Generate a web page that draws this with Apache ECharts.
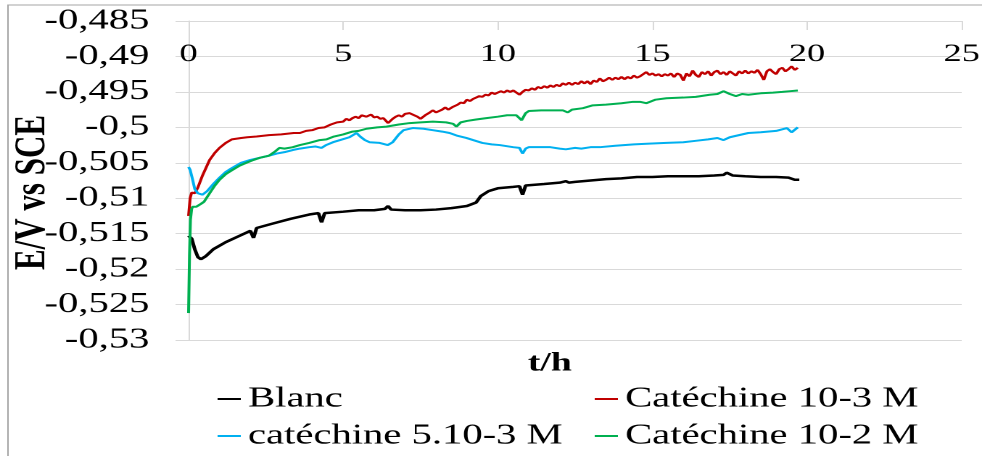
<!DOCTYPE html>
<html>
<head>
<meta charset="utf-8">
<script src="https://cdn.jsdelivr.net/npm/echarts@6/dist/echarts.min.js"></script>
<style>
html,body{margin:0;padding:0;background:#fff;overflow:hidden;width:982px;height:456px;}
#c{width:677px;height:456px;transform:scaleX(1.4505);transform-origin:0 0;}
</style>
</head>
<body>
<div id="c"></div>
<script>
// x ticks (t/h) and y ticks (E/V vs SCE)
const xTicks = [0, 5, 10, 15, 20, 25];
const yTicks = [-0.53, -0.525, -0.52, -0.515, -0.51, -0.505, -0.5, -0.495, -0.49, -0.485];
const seriesNames = ['Blanc', 'Catéchine 10-3 M', 'catéchine 5.10-3 M', 'Catéchine 10-2 M'];

// [t (h), E (V vs SCE)]
const blanc = [[0,-0.5153],[0.1,-0.5157],[0.2,-0.5172],[0.3,-0.5183],[0.4,-0.5186],[0.55,-0.5182],[0.8,-0.5172],[1.2,-0.5162],[1.6,-0.5154],[2.0,-0.5146],
[2.1,-0.5156],[2.2,-0.5142],[2.7,-0.5136],[3.3,-0.5129],[3.9,-0.5123],[4.2,-0.5121],[4.3,-0.5134],[4.4,-0.5121],[5.0,-0.5119],[5.5,-0.5117],
[6.0,-0.5117],[6.35,-0.5115],[6.45,-0.5111],[6.55,-0.5116],[7.0,-0.5117],[7.5,-0.5117],[8.0,-0.5116],[8.5,-0.5114],[9.0,-0.5111],[9.3,-0.5106],
[9.45,-0.5097],[9.7,-0.5090],[10.0,-0.5086],[10.5,-0.5084],[10.7,-0.5083],[10.8,-0.5095],[10.9,-0.5082],[11.5,-0.5080],[12.0,-0.5078],[12.2,-0.5076],
[12.3,-0.5078],[12.5,-0.5077],[13.0,-0.5075],[13.5,-0.5073],[14.0,-0.5072],[14.5,-0.5070],[15.0,-0.5070],[15.5,-0.5069],[16.0,-0.5069],[16.5,-0.5069],
[17.0,-0.5068],[17.3,-0.5067],[17.4,-0.5064],[17.6,-0.5068],[18.0,-0.5069],[18.5,-0.5070],[19.0,-0.5070],[19.4,-0.5071],[19.6,-0.5074],[19.75,-0.5074]];

const cat103 = [[0,-0.5125],[0.05,-0.5100],[0.1,-0.5092],[0.2,-0.5093],[0.3,-0.5085],[0.45,-0.5068],[0.68,-0.5046],[0.85,-0.5036],[1.0,-0.5029],[1.2,-0.5022],
[1.4,-0.5017],[1.7,-0.5015],[1.9,-0.5014],[2.2,-0.5013],[2.6,-0.5011],[3.0,-0.5010],[3.4,-0.5008],[3.6,-0.5008],[3.8,-0.5005],[4.0,-0.5004],
[4.2,-0.5001],[4.4,-0.5000],[4.6,-0.4996],[4.8,-0.4993],[5.0,-0.4992],[5.1,-0.4988],[5.2,-0.4990],[5.3,-0.4987],[5.4,-0.4985],[5.5,-0.4987],
[5.6,-0.4983],[5.75,-0.4985],[5.9,-0.4982],[6.0,-0.4986],[6.1,-0.4985],[6.2,-0.4988],[6.3,-0.4987],[6.45,-0.4994],[6.6,-0.4988],[6.7,-0.4985],
[6.8,-0.4983],[6.9,-0.4985],[7.0,-0.4981],[7.15,-0.4980],[7.3,-0.4983],[7.4,-0.4985],[7.5,-0.4988],[7.65,-0.4983],[7.8,-0.4979],[7.9,-0.4976],
[8.0,-0.4979],[8.1,-0.4977],[8.2,-0.4975],[8.3,-0.4972],[8.4,-0.4975],[8.55,-0.4971],[8.7,-0.4968],[8.8,-0.4965],[8.9,-0.4966],[9.0,-0.4961],
[9.1,-0.4963],[9.2,-0.4960],[9.3,-0.4958],[9.4,-0.4956],[9.5,-0.4957],[9.6,-0.4954],[9.7,-0.4955],[9.8,-0.4951],[9.9,-0.4953],[10.0,-0.4951],
[10.1,-0.4949],[10.2,-0.4951],[10.3,-0.4948],[10.4,-0.4950],[10.5,-0.4948],[10.6,-0.4951],[10.7,-0.4954],[10.8,-0.4950],[10.9,-0.4947],[11.0,-0.4948],
[11.1,-0.4945],[11.2,-0.4947],[11.3,-0.4943],[11.4,-0.4945],[11.5,-0.4942],[11.6,-0.4944],[11.7,-0.4941],[11.8,-0.4943],[11.9,-0.4940],[12.0,-0.4942],
[12.1,-0.4938],[12.2,-0.4940],[12.3,-0.4937],[12.4,-0.4940],[12.5,-0.4937],[12.6,-0.4939],[12.7,-0.4935],[12.8,-0.4938],[12.9,-0.4935],[13.0,-0.4939],
[13.1,-0.4934],[13.2,-0.4936],[13.3,-0.4931],[13.4,-0.4935],[13.5,-0.4933],[13.6,-0.4930],[13.7,-0.4933],[13.8,-0.4930],[13.9,-0.4932],[14.0,-0.4929],
[14.1,-0.4932],[14.2,-0.4929],[14.3,-0.4931],[14.4,-0.4927],[14.5,-0.4930],[14.6,-0.4928],[14.7,-0.4925],[14.8,-0.4922],[14.9,-0.4926],[15.0,-0.4924],
[15.1,-0.4927],[15.2,-0.4925],[15.3,-0.4928],[15.4,-0.4925],[15.5,-0.4927],[15.6,-0.4924],[15.7,-0.4929],[15.8,-0.4924],[15.9,-0.4926],[16.0,-0.4934],
[16.1,-0.4924],[16.2,-0.4928],[16.3,-0.4920],[16.4,-0.4926],[16.5,-0.4929],[16.6,-0.4922],[16.7,-0.4925],[16.8,-0.4921],[16.9,-0.4927],[17.0,-0.4922],
[17.1,-0.4920],[17.2,-0.4925],[17.3,-0.4922],[17.4,-0.4926],[17.5,-0.4921],[17.6,-0.4924],[17.7,-0.4927],[17.8,-0.4921],[17.9,-0.4924],[18.0,-0.4920],
[18.1,-0.4924],[18.2,-0.4921],[18.3,-0.4923],[18.4,-0.4919],[18.5,-0.4925],[18.6,-0.4933],[18.7,-0.4921],[18.8,-0.4918],[18.9,-0.4922],[19.0,-0.4925],
[19.1,-0.4918],[19.2,-0.4916],[19.3,-0.4921],[19.4,-0.4918],[19.5,-0.4914],[19.6,-0.4919],[19.7,-0.4916]];

const cat5103 = [[0,-0.5056],[0.05,-0.5060],[0.12,-0.5072],[0.2,-0.5087],[0.3,-0.5093],[0.45,-0.5095],[0.6,-0.5090],[0.8,-0.5080],[1.0,-0.5071],[1.2,-0.5063],
[1.42,-0.5057],[1.7,-0.5050],[2.0,-0.5046],[2.3,-0.5043],[2.6,-0.5040],[2.85,-0.5037],[3.1,-0.5035],[3.37,-0.5032],[3.6,-0.5030],[3.9,-0.5028],
[4.1,-0.5027],[4.3,-0.5029],[4.45,-0.5025],[4.67,-0.5021],[4.9,-0.5018],[5.2,-0.5014],[5.43,-0.5008],[5.55,-0.5013],[5.7,-0.5018],[5.85,-0.5021],
[6.18,-0.5022],[6.44,-0.5025],[6.6,-0.5021],[6.8,-0.5010],[6.95,-0.5004],[7.25,-0.5001],[7.6,-0.5002],[7.9,-0.5004],[8.2,-0.5006],[8.44,-0.5008],
[8.7,-0.5012],[8.98,-0.5015],[9.2,-0.5018],[9.5,-0.5022],[9.8,-0.5024],[10.06,-0.5025],[10.5,-0.5028],[10.7,-0.5029],[10.8,-0.5037],[10.9,-0.5030],
[11.0,-0.5028],[11.4,-0.5028],[11.7,-0.5028],[12.0,-0.5030],[12.2,-0.5031],[12.5,-0.5029],[12.7,-0.5030],[13.0,-0.5028],[13.3,-0.5028],[13.8,-0.5026],
[14.4,-0.5024],[14.9,-0.5023],[15.45,-0.5022],[16.0,-0.5021],[16.4,-0.5019],[16.8,-0.5017],[17.1,-0.5015],[17.3,-0.5018],[17.5,-0.5014],[17.8,-0.5011],
[18.1,-0.5008],[18.5,-0.5007],[19.0,-0.5005],[19.35,-0.5001],[19.5,-0.5007],[19.7,-0.5000]];

const cat102 = [[0,-0.5262],[0.03,-0.5180],[0.06,-0.5130],[0.1,-0.5115],[0.13,-0.5112],[0.25,-0.5112],[0.4,-0.5108],[0.5,-0.5105],[0.68,-0.5093],[0.85,-0.5082],
[1.0,-0.5074],[1.2,-0.5066],[1.42,-0.5060],[1.65,-0.5054],[1.87,-0.5050],[2.1,-0.5046],[2.3,-0.5043],[2.6,-0.5040],[2.8,-0.5034],[2.94,-0.5029],
[3.1,-0.5030],[3.37,-0.5028],[3.6,-0.5025],[3.9,-0.5022],[4.24,-0.5018],[4.46,-0.5017],[4.7,-0.5013],[5.0,-0.5010],[5.3,-0.5006],[5.5,-0.5005],
[5.75,-0.5002],[6.1,-0.5000],[6.4,-0.4999],[6.8,-0.4996],[7.15,-0.4994],[7.5,-0.4993],[7.9,-0.4992],[8.33,-0.4993],[8.55,-0.4995],[8.66,-0.4999],
[8.8,-0.4993],[9.0,-0.4991],[9.3,-0.4989],[9.63,-0.4987],[10.0,-0.4985],[10.3,-0.4983],[10.6,-0.4983],[10.77,-0.4990],[10.9,-0.4980],[11.0,-0.4977],
[11.4,-0.4976],[11.8,-0.4976],[12.1,-0.4976],[12.26,-0.4979],[12.4,-0.4975],[12.75,-0.4973],[13.07,-0.4969],[13.5,-0.4968],[14.0,-0.4966],[14.37,-0.4964],
[14.6,-0.4964],[14.8,-0.4966],[15.1,-0.4961],[15.45,-0.4959],[16.0,-0.4958],[16.4,-0.4957],[16.85,-0.4954],[17.1,-0.4953],[17.3,-0.4949],[17.5,-0.4953],
[17.7,-0.4956],[17.9,-0.4953],[18.1,-0.4954],[18.5,-0.4952],[18.9,-0.4951],[19.2,-0.4950],[19.45,-0.4949],[19.7,-0.4948]];

const colors = ['#000000', '#c00000', '#00b0f0', '#00b050'];
const widths = [2.5, 2, 2, 2];
const allData = [blanc, cat103, cat5103, cat102];

const FONT = "'Liberation Serif', 'Times New Roman', serif";
const GRID = '#d9d9d9';

const chart = echarts.init(document.getElementById('c'), null, {renderer: 'canvas', devicePixelRatio: 2});

const option = {
  backgroundColor: '#ffffff',
  animation: false,
  grid: {left: 130, right: 14, top: 21, bottom: 116, containLabel: false, outerBoundsMode: 'none'},
  xAxis: {
    type: 'value',
    position: 'top',
    min: xTicks[0],
    max: xTicks[xTicks.length - 1],
    interval: xTicks[1] - xTicks[0],
    axisLine: {show: true, onZero: false, lineStyle: {color: GRID, width: 1}},
    axisTick: {show: true, inside: true, length: 9, lineStyle: {color: GRID}},
    axisLabel: {inside: true, margin: 21, color: '#000', fontSize: 25, fontFamily: FONT},
    splitLine: {show: false}
  },
  yAxis: {
    type: 'value',
    min: yTicks[0],
    max: yTicks[yTicks.length - 1],
    interval: 0.005,
    name: 'E/V vs SCE',
    nameLocation: 'middle',
    nameGap: 92,
    nameMoveOverlap: false,
    nameTextStyle: {color: '#000', fontSize: 31, fontWeight: 'bold', fontFamily: FONT, padding: [0, 24, 0, 0]},
    axisLine: {show: true, onZero: false, lineStyle: {color: GRID, width: 1}},
    axisTick: {show: true, length: 9, lineStyle: {color: GRID}},
    axisLabel: {
      margin: 27, color: '#000', fontSize: 28, fontFamily: FONT,
      formatter: v => String(+v.toFixed(3)).replace('.', ',')
    },
    splitLine: {show: true, lineStyle: {color: GRID, width: 1}}
  },
  legend: [
    {
      orient: 'vertical', left: 150, top: 385, padding: 0, itemGap: 9,
      itemWidth: 16, itemHeight: 2, icon: 'rect',
      data: [seriesNames[0], seriesNames[2]],
      textStyle: {color: '#000', fontSize: 28, fontFamily: FONT}
    },
    {
      orient: 'vertical', left: 410, top: 385, padding: 0, itemGap: 9,
      itemWidth: 16, itemHeight: 2, icon: 'rect',
      data: [seriesNames[1], seriesNames[3]],
      textStyle: {color: '#000', fontSize: 28, fontFamily: FONT}
    }
  ],
  graphic: [
    {
      type: 'rect', silent: true, z: 0,
      shape: {x: 5.5, y: 5, width: 1000, height: 1000},
      style: {fill: 'none', stroke: '#a6a6a6', lineWidth: 1}
    },
    {
      type: 'text', x: 379, y: 364, silent: true,
      style: {text: 't/h', fill: '#000', font: "bold 26px 'Liberation Serif', 'Times New Roman', serif", textAlign: 'center', textVerticalAlign: 'middle'}
    }
  ],
  series: allData.map((d, i) => ({
    name: seriesNames[i],
    type: 'line',
    data: d,
    symbol: 'none',
    smooth: false,
    lineStyle: {color: colors[i], width: widths[i]},
    itemStyle: {color: colors[i]},
    z: 2 + i
  }))
};
chart.setOption(option);
</script>
</body>
</html>
